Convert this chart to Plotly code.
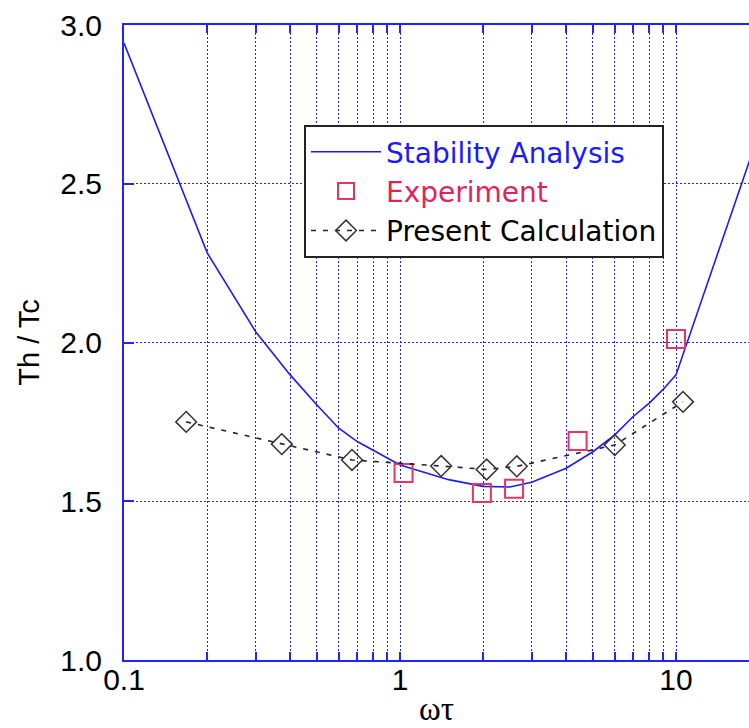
import plotly.graph_objects as go

# Stability analysis curve
stab_x = [0.1, 0.2, 0.3, 0.4, 0.5, 0.6, 0.7, 0.8, 0.9, 1.0, 1.5, 2.0, 2.5, 3.0,
          4.0, 5.0, 6.0, 7.0, 8.0, 9.0, 10.0, 20.0]
stab_y = [2.943, 2.283, 2.034, 1.898, 1.803, 1.73, 1.688, 1.661, 1.635, 1.614,
          1.568, 1.547, 1.545, 1.56, 1.604, 1.656, 1.709, 1.767, 1.809, 1.853,
          1.898, 2.66]

# Experiment
exp_x = [1.03, 1.98, 2.59, 4.4, 10.0]
exp_y = [1.589, 1.526, 1.539, 1.69, 2.011]

# Present calculation
calc_x = [0.168, 0.373, 0.67, 1.41, 2.06, 2.65, 6.0, 10.6]
calc_y = [1.75, 1.68, 1.63, 1.611, 1.60, 1.61, 1.677, 1.813]

x_tickvals = [0.1, 0.2, 0.3, 0.4, 0.5, 0.6, 0.7, 0.8, 0.9,
              1, 2, 3, 4, 5, 6, 7, 8, 9, 10, 20]
x_ticktext = ["0.1", "", "", "", "", "", "", "", "",
              "1", "", "", "", "", "", "", "", "", "10", ""]
y_tickvals = [1.0, 1.5, 2.0, 2.5, 3.0]
y_ticktext = ["1.0", "1.5", "2.0", "2.5", "3.0"]

BLUE = "#2323ff"
GRID = "#2020ff"
LINE_BLUE = "#1c1cf0"
RED = "#e8345f"
FONT = "Liberation Sans, Arial, sans-serif"
LEG_FONT = "DejaVu Sans, Liberation Sans, Arial, sans-serif"

fig = go.Figure()
fig.add_trace(go.Scatter(
    x=stab_x, y=stab_y, mode="lines",
    line=dict(color=LINE_BLUE, width=1.6),
    name="<span style='color:#1a1aff'>Stability Analysis</span>",
))
fig.add_trace(go.Scatter(
    x=exp_x, y=exp_y, mode="markers",
    marker=dict(symbol="square-open", size=18, color=RED, line=dict(width=2, color=RED)),
    name="<span style='color:#e0245a'>Experiment</span>",
))
fig.add_trace(go.Scatter(
    x=calc_x, y=calc_y, mode="lines+markers",
    line=dict(color="#222222", width=1.6, dash="5px,7px"),
    marker=dict(symbol="diamond-open", size=16, color="#333333",
                line=dict(width=1.5, color="#333333")),
    name="Present Calculation",
))

fig.update_layout(
    width=749, height=728,
    margin=dict(l=124, r=0, t=25, b=68),
    paper_bgcolor="white", plot_bgcolor="white",
    font=dict(family=FONT, size=30, color="black"),
    showlegend=True,
    legend=dict(
        x=(304 - 124) / 625, y=(660 - 125) / 635,
        xanchor="left", yanchor="top",
        bgcolor="white", bordercolor="#222222", borderwidth=2,
        font=dict(family=LEG_FONT, size=28, color="black"),
        itemwidth=70, tracegroupgap=0,
    ),
    xaxis=dict(
        type="log", range=[-1, 1.2645],
        tickvals=x_tickvals, ticktext=x_ticktext,
        ticks="inside", ticklen=8, tickwidth=2, tickcolor=BLUE,
        showline=True, linecolor=BLUE, linewidth=2, mirror="ticks",
        showgrid=True, gridcolor=GRID, gridwidth=1, griddash="2px,2px",
        zeroline=False,
        ticklabelstandoff=-8,
        tickfont=dict(family=FONT, size=30, color="black"),
        title=dict(text="ωτ", font=dict(family="Liberation Serif, Times New Roman, serif",
                                          size=33, color="black"), standoff=2),
    ),
    yaxis=dict(
        range=[1.0, 3.0],
        tickvals=y_tickvals, ticktext=y_ticktext,
        ticks="inside", ticklen=10, tickwidth=2, tickcolor=BLUE,
        showline=True, linecolor=BLUE, linewidth=2, mirror=False,
        showgrid=True, gridcolor=GRID, gridwidth=1, griddash="2px,2px",
        zeroline=False,
        ticklabelstandoff=14,
        tickfont=dict(family=FONT, size=30, color="black"),
        title=dict(text="Th / Tc", font=dict(family=FONT, size=29, color="black"), standoff=12),
    ),
)

fig.write_html("out.html")
